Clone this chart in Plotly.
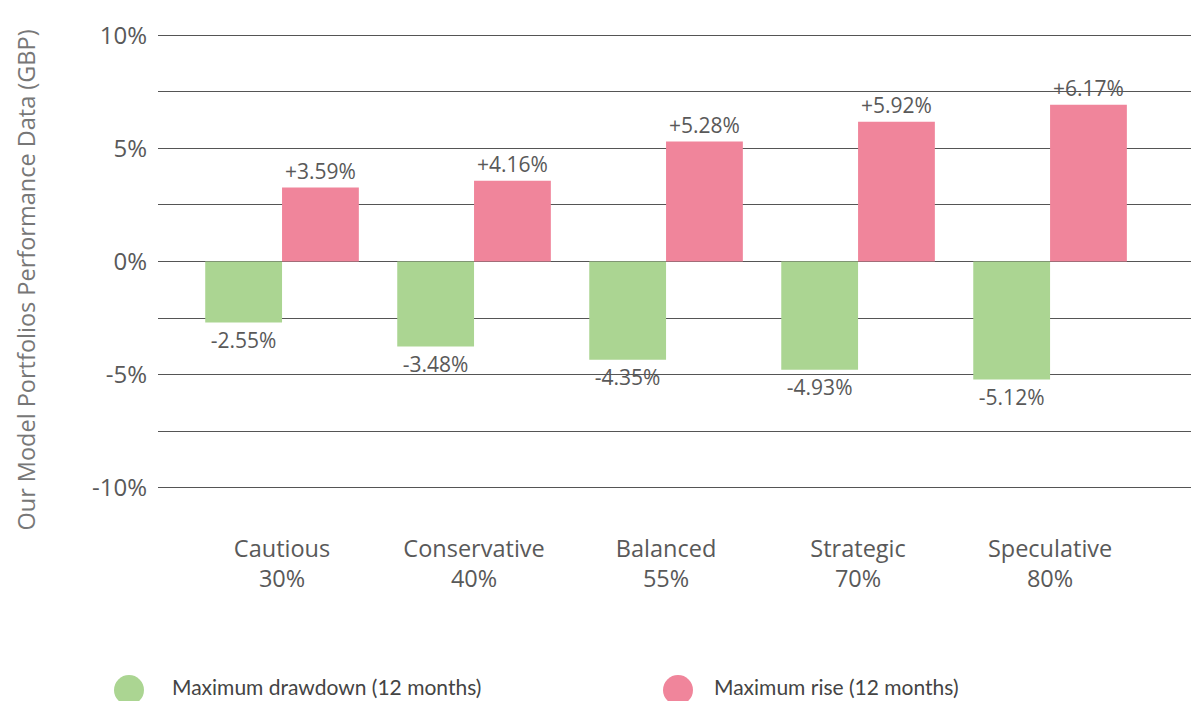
import plotly.graph_objects as go

categories = ["Cautious<br>30%", "Conservative<br>40%", "Balanced<br>55%", "Strategic<br>70%", "Speculative<br>80%"]
series_names = ["Maximum drawdown (12 months)", "Maximum rise (12 months)"]
drawdown_values = [-2.70, -3.76, -4.34, -4.79, -5.22]
rise_values = [3.27, 3.57, 5.30, 6.18, 6.93]
drawdown_labels = ["-2.55%", "-3.48%", "-4.35%", "-4.93%", "-5.12%"]
rise_labels = ["+3.59%", "+4.16%", "+5.28%", "+5.92%", "+6.17%"]
y_tick_values = [-10, -7.5, -5, -2.5, 0, 2.5, 5, 7.5, 10]
y_tick_labels = ["-10%", "", "-5%", "", "0%", "", "5%", "", "10%"]
y_title = "Our Model Portfolios Performance Data (GBP)"

GREEN = "#abd592"
PINK = "#f0859b"
TEXT = "#595959"

fig = go.Figure()
fig.add_trace(go.Bar(
    x=categories, y=drawdown_values, name=series_names[0],
    marker=dict(color=GREEN, line=dict(width=0)),
    text=drawdown_labels, textposition="outside", constraintext="none",
    textfont=dict(family="Open Sans", size=21, color=TEXT),
    cliponaxis=False, showlegend=False,
))
fig.add_trace(go.Bar(
    x=categories, y=rise_values, name=series_names[1],
    marker=dict(color=PINK, line=dict(width=0)),
    text=rise_labels, textposition="outside", constraintext="none",
    textfont=dict(family="Open Sans", size=21, color=TEXT),
    cliponaxis=False, showlegend=False,
))

plot_top, plot_h = 33, 457
fig.update_layout(
    width=1191, height=701,
    margin=dict(l=158, r=0, t=plot_top, b=701 - plot_top - plot_h),
    paper_bgcolor="white", plot_bgcolor="white",
    barmode="group", bargap=0.2, bargroupgap=0,
    font=dict(family="Open Sans", color=TEXT),
    showlegend=False,
)
fig.update_xaxes(
    type="category", range=[-0.646, 4.734],
    showgrid=False, showline=False, zeroline=False, ticks="",
    tickfont=dict(family="Open Sans", size=23.5, color=TEXT),
    ticklabelstandoff=42,
)
fig.update_yaxes(
    range=[-10.1, 10.1], tickvals=y_tick_values, ticktext=y_tick_labels,
    showgrid=True, gridcolor="#555555", gridwidth=1,
    zeroline=False, showline=False, ticks="",
    tickfont=dict(family="Open Sans", size=24, color=TEXT),
    ticklabelstandoff=10,
)

# y-axis title
fig.add_annotation(
    text=y_title, textangle=-90, xref="paper", yref="paper",
    x=-0.128, y=0.46, xanchor="center", yanchor="middle", showarrow=False,
    font=dict(family="Open Sans", size=23.5, color="#777777"),
)

# legend (custom, large circles)
circle_y = (plot_top + plot_h - 690) / plot_h
label_y = (plot_top + plot_h - 686) / plot_h
legend_items = [(series_names[0], GREEN, (129 - 158) / 1033, (170 - 158) / 1033),
                (series_names[1], PINK, (678 - 158) / 1033, (712 - 158) / 1033)]
for name, color, cx, tx in legend_items:
    fig.add_shape(
        type="circle", xref="paper", yref="paper",
        xsizemode="pixel", ysizemode="pixel", xanchor=cx, yanchor=circle_y,
        x0=-15, x1=15, y0=-15, y1=15,
        fillcolor=color, line=dict(width=0),
    )
    fig.add_annotation(
        text=name, xref="paper", yref="paper", x=tx, y=label_y,
        xanchor="left", yanchor="middle", showarrow=False,
        font=dict(family="Lato", size=21, color="#444444"),
    )

fig.write_html(
    "out.html",
    config={"displayModeBar": False},
    post_script="document.body.style.margin='0';document.body.style.overflow='hidden';",
)
